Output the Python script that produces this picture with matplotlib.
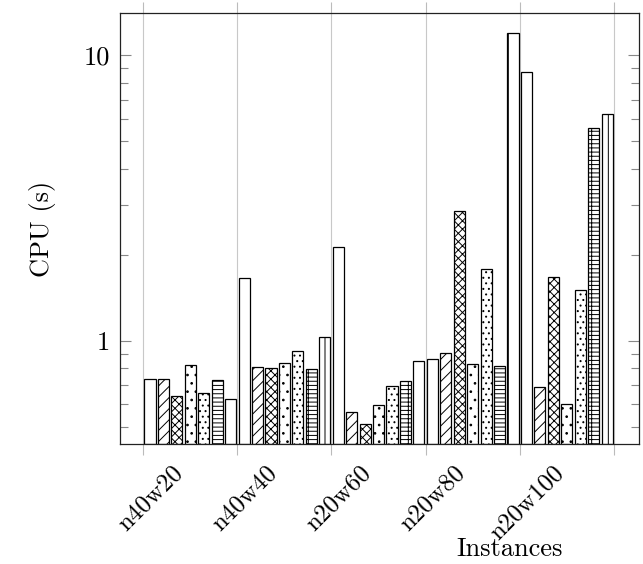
import numpy as np
import matplotlib
matplotlib.use('Agg')
import matplotlib.pyplot as plt
from matplotlib.ticker import FixedLocator, FixedFormatter, NullFormatter
import matplotlib.transforms as mtransforms

# ---- data ----
instances = ['n40w20', 'n40w40', 'n20w60', 'n20w80', 'n20w100']
tick_labels = instances + ['']

s1 = [0.732, 1.659, 2.125, 0.861, 8.72]   # plain
s2 = [0.734, 0.809, 0.561, 0.906, 0.687]  # north east lines
s3 = [0.640, 0.800, 0.509, 2.854, 1.668]  # crosshatch
s4 = [0.822, 0.836, 0.594, 0.831, 0.600]  # dots
s5 = [0.656, 0.918, 0.694, 1.788, 1.509]  # dense dots
s6 = [0.728, 0.798, 0.722, 0.813, 5.56]   # grid
s7 = [0.625, 1.028, 0.851, 12.0, 6.21]    # vertical lines

series = [s1, s2, s3, s4, s5, s6, s7]
hatches = ['', '///', 'xxxx', '..', '...', '----|', '|']

# ---- style ----
plt.rcParams['font.family'] = ['cmr10', 'DejaVu Serif']
plt.rcParams['mathtext.fontset'] = 'cm'
plt.rcParams['axes.formatter.use_mathtext'] = True
plt.rcParams['hatch.linewidth'] = 0.7
plt.rcParams['hatch.color'] = 'black'

fig = plt.figure(figsize=(6.43, 5.64), dpi=100)
ax = fig.add_axes([0.1866, 0.2128, 0.8072, 0.7636])
ax.set_yscale('log')

YMIN, YMAX = 0.4345, 14.04
n = len(series)
pitch = 1.0 / n
width = 0.118
base = np.arange(len(instances))
for j, (vals, h) in enumerate(zip(series, hatches)):
    v = np.asarray(vals)
    ax.bar(base + (j + 0.5) * pitch, v - YMIN, bottom=YMIN, width=width,
           facecolor='white', edgecolor='black', linewidth=0.9, hatch=h,
           zorder=2)

ax.set_xlim(-0.2476, 5.268)
ax.set_ylim(YMIN, YMAX)

# x axis
ax.set_xticks(np.arange(len(tick_labels)))
ax.set_xticklabels(tick_labels, rotation=45, ha='center', va='top', fontsize=18)
ax.tick_params(axis='x', direction='out', length=7.9, width=0.8,
               color='#bbbbbb', top=True, pad=5)
off = mtransforms.ScaledTranslation(7 / 100, 0, fig.dpi_scale_trans)
for lbl in ax.get_xticklabels():
    lbl.set_transform(lbl.get_transform() + off)
ax.grid(axis='x', color='#c8c8c8', linewidth=0.8, zorder=0)
ax.set_axisbelow(True)

# y axis
ax.yaxis.set_major_locator(FixedLocator([1, 10]))
ax.yaxis.set_major_formatter(FixedFormatter(['1', '10']))
ax.yaxis.set_minor_locator(FixedLocator([0.5, 0.6, 0.7, 0.8, 0.9,
                                         2, 3, 4, 5, 6, 7, 8, 9]))
ax.yaxis.set_minor_formatter(NullFormatter())
ax.tick_params(axis='y', which='both', direction='in', right=True,
               color='#888888', width=0.8, labelsize=19, pad=7.2)
ax.tick_params(axis='y', which='major', length=7.9)
ax.tick_params(axis='y', which='minor', length=5.8)

for sp in ax.spines.values():
    sp.set_linewidth(0.9)
    sp.set_color('#222222')

ax.set_xlabel('Instances', fontsize=19, va='center')
ax.xaxis.set_label_coords(0.75, -0.2436)
ax.set_ylabel('CPU (s)', fontsize=19, va='center')
ax.yaxis.set_label_coords(-0.15, 0.5)

fig.savefig('out.png', dpi=100)
